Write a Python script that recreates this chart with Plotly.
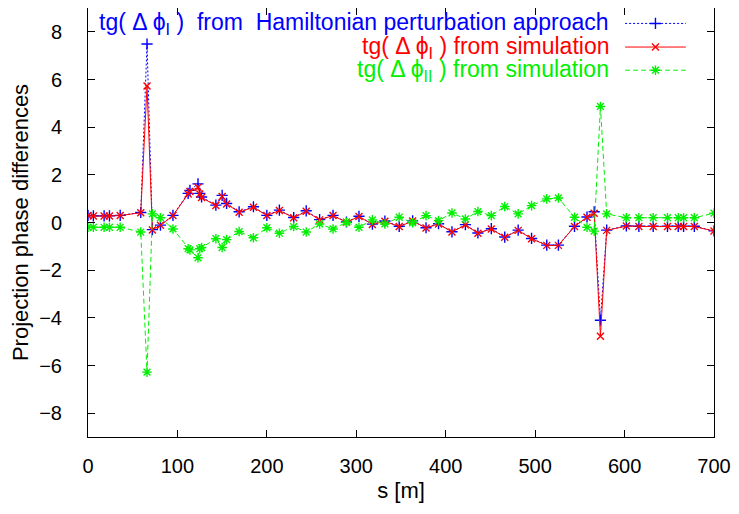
import plotly.graph_objects as go

# ---- data ----
s_m = [0, 6, 18, 24, 36, 59, 66, 72, 81, 95, 112, 114, 123, 125, 127, 143, 150, 155,
       169, 185, 200, 214, 230, 244, 259, 274, 289, 303, 318, 332, 348, 363, 378, 392,
       407, 422, 436, 451, 466, 481, 496, 513, 526, 544, 558, 566, 573, 580, 602, 616,
       632, 648, 660, 666, 678, 700]

hamilton_I = [0.30, 0.28, 0.28, 0.28, 0.30, 0.42, 7.49, -0.30, -0.11, 0.30, 1.22, 1.35,
              1.62, 1.22, 1.07, 0.73, 1.14, 0.80, 0.45, 0.66, 0.30, 0.52, 0.21, 0.49,
              0.12, 0.30, 0.02, 0.26, -0.07, 0.06, -0.16, 0.07, -0.22, -0.05, -0.39,
              -0.09, -0.44, -0.26, -0.61, -0.32, -0.67, -0.95, -0.95, -0.16, 0.23, 0.45,
              -4.10, -0.32, -0.14, -0.16, -0.16, -0.16, -0.16, -0.16, -0.16, -0.35]

simulation_I = [0.29, 0.27, 0.27, 0.27, 0.29, 0.41, 5.73, -0.31, -0.12, 0.29, 1.20, 1.30,
                1.48, 1.20, 1.05, 0.71, 1.09, 0.78, 0.43, 0.64, 0.29, 0.50, 0.20, 0.47,
                0.11, 0.29, 0.01, 0.25, -0.08, 0.05, -0.17, 0.06, -0.23, -0.06, -0.40,
                -0.10, -0.45, -0.27, -0.62, -0.33, -0.68, -0.96, -0.96, -0.17, 0.22, 0.39,
                -4.77, -0.33, -0.15, -0.17, -0.17, -0.17, -0.17, -0.17, -0.17, -0.36]

simulation_II = [-0.20, -0.20, -0.20, -0.20, -0.20, -0.40, -6.28, 0.36, 0.20, -0.27, -1.10,
                 -1.15, -1.48, -1.10, -1.05, -0.68, -1.05, -0.72, -0.38, -0.64, -0.22,
                 -0.45, -0.17, -0.40, -0.06, -0.27, 0.01, -0.20, 0.11, -0.06, 0.22, -0.01,
                 0.29, 0.08, 0.40, 0.15, 0.46, 0.29, 0.67, 0.36, 0.71, 0.99, 1.03, 0.22,
                 -0.20, -0.36, 4.87, 0.36, 0.20, 0.20, 0.20, 0.20, 0.20, 0.20, 0.20, 0.39]

x_ticks = [0, 100, 200, 300, 400, 500, 600, 700]
y_ticks = [-8, -6, -4, -2, 0, 2, 4, 6, 8]

legend_labels = [
    "tg( \u0394 \u03d5<sub>I</sub> )  from  Hamiltonian perturbation approach",
    "tg( \u0394 \u03d5<sub>I</sub> ) from simulation",
    "tg( \u0394 \u03d5<sub>II</sub> ) from simulation",
]

# ---- styles ----
BLUE, RED, GREEN = "#0000ff", "#ff0000", "#00f000"
FONT = "Liberation Sans, Arial, sans-serif"
styles = [
    dict(color=BLUE, dash="2px,2px", symbol="cross-thin", msize=8),
    dict(color=RED, dash="solid", symbol="x-thin", msize=7),
    dict(color=GREEN, dash="5px,3px", symbol="asterisk", msize=8),
]
series = [hamilton_I, simulation_I, simulation_II]

fig = go.Figure()
for ys, st in zip(series, styles):
    fig.add_trace(go.Scatter(
        x=s_m, y=ys, mode="lines+markers",
        line=dict(color=st["color"], width=1, dash=st["dash"]),
        marker=dict(symbol=st["symbol"], size=st["msize"],
                    line=dict(color=st["color"], width=1.4)),
        showlegend=False, cliponaxis=True,
    ))

# ---- gnuplot-style key (text on the left, sample on the right) ----
key_rows = [0.964, 0.909, 0.855]
key_text_x = 0.834
key_sample = [0.858, 0.955]
for label, st, ky in zip(legend_labels, styles, key_rows):
    fig.add_trace(go.Scatter(
        x=key_sample, y=[ky, ky], mode="lines", xaxis="x2", yaxis="y2",
        line=dict(color=st["color"], width=1, dash=st["dash"]), showlegend=False,
        hoverinfo="skip"))
    fig.add_trace(go.Scatter(
        x=[sum(key_sample) / 2], y=[ky], mode="markers", xaxis="x2", yaxis="y2",
        marker=dict(symbol=st["symbol"], size=st["msize"],
                    line=dict(color=st["color"], width=1.4)),
        showlegend=False, hoverinfo="skip"))
    fig.add_annotation(x=key_text_x, y=ky, xref="paper", yref="paper",
                       text=label, showarrow=False, xanchor="right", yanchor="middle",
                       borderpad=0,
                       font=dict(family=FONT, size=23, color=st["color"]))

axis_common = dict(
    showline=True, linecolor="black", linewidth=1, mirror="ticks",
    ticks="inside", ticklen=7, tickcolor="black", tickwidth=1,
    showgrid=False, zeroline=False,
    tickfont=dict(family=FONT, size=20, color="black"),
)

fig.update_layout(
    width=739, height=514,
    margin=dict(l=80, r=33, t=0, b=85),
    paper_bgcolor="white", plot_bgcolor="white",
    font=dict(family=FONT, size=20, color="black"),
    xaxis=dict(range=[0, 700], tickvals=x_ticks, ticklabelstandoff=11,
               title=dict(text="s [m]", standoff=6, font=dict(family=FONT, size=22)),
               **axis_common),
    yaxis=dict(range=[-9, 9], tickvals=y_ticks, ticklabelstandoff=21,
               title=dict(text="Projection phase differences", standoff=12,
                          font=dict(family=FONT, size=22)),
               **axis_common),
    xaxis2=dict(overlaying="x", range=[0, 1], visible=False, fixedrange=True),
    yaxis2=dict(overlaying="y", range=[0, 1], visible=False, fixedrange=True),
)

fig.write_html("out.html")
